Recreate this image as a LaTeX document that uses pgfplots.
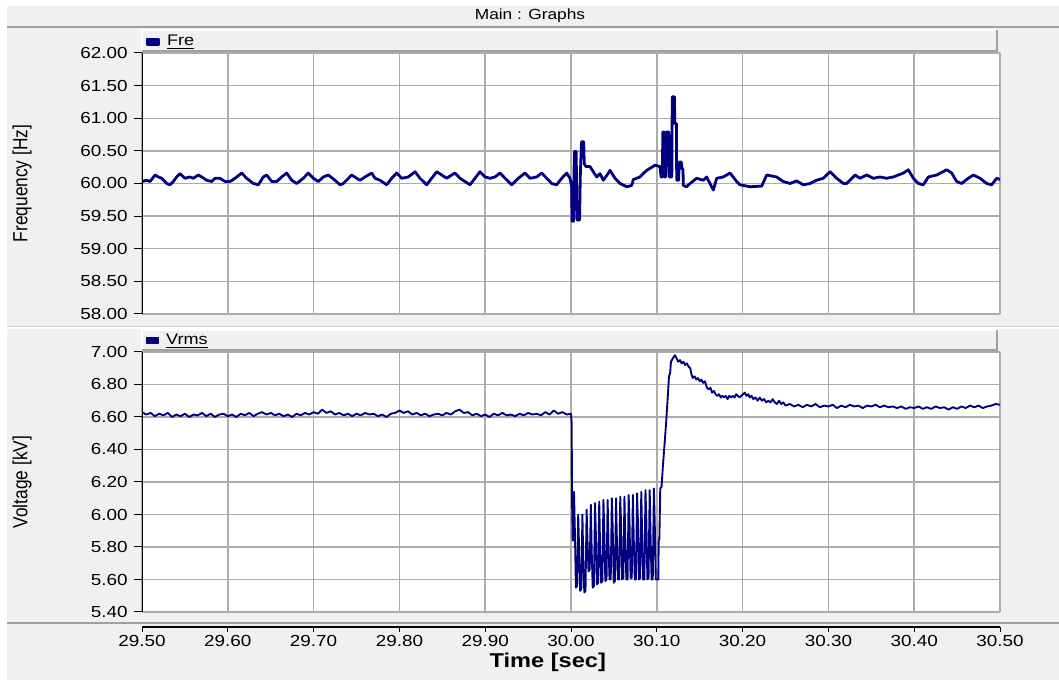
\documentclass[border=0pt]{standalone}
\usepackage{pgfplots}
\pgfplotsset{compat=1.18}
\usepackage{graphicx}
\usepackage{fontspec}
\setmainfont{Liberation Sans}
\newfontfamily\hfont[FakeStretch=1.18]{Liberation Sans}
\definecolor{navy}{RGB}{0,0,128}
\definecolor{bg}{RGB}{240,240,240}
\definecolor{gridgray}{RGB}{172,172,172}
\definecolor{shadow}{RGB}{160,160,160}
\pgfplotsset{
  panel/.style={
    scale only axis, width=643.5pt,
    xmin=29.5, xmax=30.5,
    xtick={29.5,29.6,29.7,29.8,29.9,30.0,30.1,30.2,30.3,30.4,30.5},
    xmajorticks=false, xmajorgrids=true, ymajorgrids=true,
    major grid style={draw=gridgray, line width=1.1pt},
    axis line style={draw=none},
    axis background/.style={fill=white},
    tick align=outside, major tick length=6pt, ytick pos=left,
    ytick style={draw=black, line width=0.75pt},
    yticklabel style={font=\hfont\fontsize{12}{14}\selectfont, anchor=east, inner sep=0pt, xshift=-4.5pt},
    every axis y label/.style={at={(axis description cs:0,0.5)}, anchor=center, xshift=-90pt},
    ylabel style={font=\fontsize{13}{15}\selectfont},
    legend style={at={(axis description cs:0,1)}, anchor=west, yshift=8.5pt, xshift=2.5pt, draw=none, fill=none, inner sep=0pt, font=\hfont\fontsize{11.5}{13}\selectfont},
    legend image code/.code={\fill[navy] (0pt,-2pt) rectangle (9pt,2pt);},
  }
}
\begin{document}
\begin{tikzpicture}
\useasboundingbox (0,0) rectangle (794.25pt,510pt);
\begin{scope}[x=0.75pt,y=0.75pt]
\fill[white] (0,0) rectangle (1059,680);
\fill[bg] (7,0) rectangle (1059,674);
\draw[shadow, line width=1.1pt] (7,653) -- (1059,653);
\node[font=\hfont\fontsize{11}{13}\selectfont] at (530,664) {Main : Graphs};
% legend bars
\fill[bg] (142,628) rectangle (998,650);
\draw[white, line width=1pt] (142,628) -- (142,650) -- (998,650);
\draw[shadow, line width=1.5pt] (142,628.5) -- (997,628.5) -- (997,650);
\fill[bg] (142,329) rectangle (998,350);
\draw[white, line width=1pt] (142,329) -- (142,350) -- (998,350);
\draw[shadow, line width=1.5pt] (142,329.5) -- (997,329.5) -- (997,350);
% separators
\draw[gridgray!60, line width=1pt] (7,353) -- (1059,353);
\draw[white, line width=1pt] (7,352) -- (1059,352);
\draw[shadow, line width=1.1pt] (7,57) -- (1059,57);
\end{scope}

% ---------- Frequency ----------
\begin{axis}[panel, at={(106.5pt,274.5pt)}, anchor=south west, height=195.75pt,
  ymin=58, ymax=62,
  ytick={58,58.5,59,59.5,60,60.5,61,61.5,62},
  yticklabels={58.00,58.50,59.00,59.50,60.00,60.50,61.00,61.50,62.00},
  ylabel={\rotatebox{90}{\scalebox{1}[1.18]{Frequency [Hz]}}}]
\addplot[navy, line width=2.1pt, line join=round] coordinates {
(29.5000,60.03) (29.5055,60.05) (29.5093,60.03) (29.5152,60.13) (29.5190,60.10) (29.5230,60.08) (29.5288,60.00) (29.5326,59.98) (29.5365,60.03) (29.5404,60.10) (29.5443,60.15) (29.5501,60.08) (29.5559,60.10) (29.5598,60.08) (29.5656,60.13) (29.5696,60.10) (29.5754,60.05) (29.5812,60.03) (29.5851,60.08) (29.5909,60.08) (29.5967,60.03) (29.6026,60.03) (29.6084,60.08) (29.6162,60.16) (29.6220,60.08) (29.6298,60.00) (29.6356,59.98) (29.6414,60.10) (29.6453,60.13) (29.6512,60.03) (29.6570,60.03) (29.6628,60.10) (29.6686,60.16) (29.6745,60.05) (29.6803,60.00) (29.6880,60.08) (29.6938,60.16) (29.6997,60.08) (29.7055,60.03) (29.7113,60.10) (29.7171,60.13) (29.7249,60.05) (29.7308,59.98) (29.7346,60.00) (29.7444,60.13) (29.7502,60.08) (29.7541,60.05) (29.7599,60.10) (29.7677,60.16) (29.7716,60.08) (29.7774,60.05) (29.7852,59.98) (29.7910,60.08) (29.7968,60.16) (29.8027,60.08) (29.8104,60.10) (29.8182,60.18) (29.8240,60.08) (29.8318,59.98) (29.8376,60.08) (29.8435,60.18) (29.8493,60.13) (29.8551,60.08) (29.8609,60.13) (29.8648,60.16) (29.8706,60.08) (29.8765,60.03) (29.8823,59.98) (29.8881,60.08) (29.8939,60.18) (29.8998,60.10) (29.9056,60.08) (29.9114,60.10) (29.9172,60.16) (29.9231,60.08) (29.9309,59.98) (29.9386,60.08) (29.9464,60.16) (29.9522,60.08) (29.9600,60.10) (29.9658,60.16) (29.9717,60.08) (29.9775,60.00) (29.9833,59.98) (29.9892,60.08) (29.9950,60.16) (29.9988,60.08)
(30.0008,59.95) (30.0012,59.42) (30.0030,59.42) (30.0034,60.10) (30.0040,60.49) (30.0060,60.49) (30.0064,60.10) (30.0070,59.44) (30.0100,59.44) (30.0108,60.10) (30.0122,60.64) (30.0148,60.64) (30.0155,60.30) (30.0175,60.26) (30.0221,60.26) (30.0260,60.18) (30.0300,60.10) (30.0338,60.15) (30.0377,60.05) (30.0420,60.13) (30.0455,60.20) (30.0513,60.08) (30.0571,60.00) (30.0649,59.95) (30.0707,59.97) (30.0726,60.06) (30.0765,60.08) (30.0804,60.10) (30.0840,60.15) (30.0882,60.20) (30.0930,60.24) (30.0979,60.28) (30.1037,60.26) (30.1050,60.10) (30.1065,60.10) (30.1070,60.79) (30.1085,60.79) (30.1090,60.10) (30.1105,60.10) (30.1110,60.79) (30.1140,60.79) (30.1145,60.10) (30.1175,60.10) (30.1180,61.33) (30.1205,61.33) (30.1210,60.92) (30.1228,60.92) (30.1232,60.05) (30.1255,60.05) (30.1260,60.33) (30.1285,60.33) (30.1295,60.22) (30.1305,60.22) (30.1309,59.97) (30.1348,59.95)
(30.1387,60.00) (30.1465,60.08) (30.1542,60.05) (30.1580,60.10) (30.1659,59.90) (30.1698,60.08) (30.1775,60.10) (30.1853,60.16) (30.1931,60.03) (30.1970,59.98) (30.2086,59.95) (30.2222,59.96) (30.2281,60.13) (30.2397,60.10) (30.2474,60.03) (30.2552,60.00) (30.2630,60.04) (30.2707,59.98) (30.2786,60.00) (30.2863,60.05) (30.2940,60.08) (30.3019,60.18) (30.3096,60.08) (30.3174,60.00) (30.3213,60.00) (30.3310,60.13) (30.3368,60.08) (30.3446,60.13) (30.3523,60.08) (30.3601,60.10) (30.3679,60.08) (30.3757,60.10) (30.3873,60.16) (30.3931,60.21) (30.3990,60.08) (30.4048,60.00) (30.4106,59.98) (30.4165,60.10) (30.4262,60.13) (30.4379,60.21) (30.4437,60.16) (30.4495,60.03) (30.4553,60.00) (30.4631,60.08) (30.4689,60.13) (30.4767,60.08) (30.4845,60.00) (30.4903,59.98) (30.4961,60.08) (30.5000,60.06)
};
\addlegendentry{\hspace{3pt}\underline{Fre}}
\draw[black, line width=1.1pt] (rel axis cs:0,0) -- (rel axis cs:0,1);
\end{axis}

% ---------- Voltage ----------
\begin{axis}[panel, at={(106.5pt,51pt)}, anchor=south west, height=195pt,
  ymin=5.4, ymax=7.0,
  ytick={5.4,5.6,5.8,6.0,6.2,6.4,6.6,6.8,7.0},
  yticklabels={5.40,5.60,5.80,6.00,6.20,6.40,6.60,6.80,7.00},
  ylabel={\rotatebox{90}{\scalebox{1}[1.18]{Voltage [kV]}}}]
\addplot[navy, line width=1.4pt, line join=round] coordinates {
(29.500,6.63) (29.505,6.615) (29.510,6.625) (29.515,6.605) (29.520,6.62) (29.525,6.61) (29.530,6.625) (29.535,6.60) (29.540,6.615) (29.545,6.605) (29.550,6.62) (29.555,6.60) (29.560,6.615) (29.565,6.61) (29.570,6.625) (29.575,6.605) (29.580,6.62) (29.585,6.60) (29.590,6.615) (29.595,6.62)
(29.600,6.605) (29.605,6.615) (29.610,6.60) (29.615,6.62) (29.620,6.61) (29.625,6.625) (29.630,6.605) (29.635,6.62) (29.640,6.63) (29.645,6.615) (29.650,6.625) (29.655,6.61) (29.660,6.62) (29.665,6.605) (29.670,6.615) (29.675,6.60) (29.680,6.62) (29.685,6.61) (29.690,6.625) (29.695,6.615)
(29.700,6.63) (29.705,6.62) (29.710,6.645) (29.715,6.625) (29.720,6.635) (29.725,6.615) (29.730,6.625) (29.735,6.61) (29.740,6.62) (29.745,6.605) (29.750,6.62) (29.755,6.61) (29.760,6.625) (29.765,6.615) (29.770,6.62) (29.775,6.605) (29.780,6.615) (29.785,6.60) (29.790,6.62) (29.795,6.625)
(29.800,6.64) (29.805,6.625) (29.810,6.635) (29.815,6.615) (29.820,6.625) (29.825,6.61) (29.830,6.62) (29.835,6.605) (29.840,6.615) (29.845,6.62) (29.850,6.61) (29.855,6.625) (29.860,6.615) (29.865,6.635) (29.870,6.645) (29.875,6.625) (29.880,6.63) (29.885,6.61) (29.890,6.62) (29.895,6.605)
(29.900,6.615) (29.905,6.60) (29.910,6.62) (29.915,6.61) (29.920,6.625) (29.925,6.61) (29.930,6.615) (29.935,6.605) (29.940,6.62) (29.945,6.61) (29.950,6.625) (29.955,6.615) (29.960,6.62) (29.965,6.61) (29.970,6.63) (29.975,6.615) (29.980,6.64) (29.985,6.62) (29.990,6.63) (29.995,6.615)
(30.0000,6.62) (30.0008,6.56) (30.0012,6.09) (30.0020,5.84) (30.0030,5.84)
(30.0035,6.14) (30.0045,5.90) (30.0057,5.55) (30.0071,5.56)
(30.0084,6.00) (30.0094,5.80) (30.0106,5.53) (30.0120,5.54)
(30.0133,6.00) (30.0143,5.72) (30.0155,5.52) (30.0169,5.53)
(30.0182,6.03) (30.0192,5.85) (30.0204,5.65) (30.0218,5.66)
(30.0231,6.06) (30.0241,5.78) (30.0253,5.55) (30.0267,5.56)
(30.0280,6.07) (30.0290,5.88) (30.0302,5.57) (30.0316,5.58)
(30.0329,6.08) (30.0339,5.80) (30.0351,5.58) (30.0365,5.59)
(30.0378,6.09) (30.0388,5.90) (30.0400,5.59) (30.0414,5.60)
(30.0427,6.09) (30.0437,5.82) (30.0449,5.60) (30.0463,5.60)
(30.0476,6.10) (30.0486,5.92) (30.0498,5.58) (30.0512,5.59)
(30.0525,6.10) (30.0535,5.84) (30.0547,5.60) (30.0561,5.60)
(30.0574,6.11) (30.0584,5.93) (30.0596,5.60) (30.0610,5.61)
(30.0623,6.11) (30.0633,5.85) (30.0645,5.60) (30.0659,5.60)
(30.0672,6.12) (30.0682,5.95) (30.0694,5.61) (30.0708,5.61)
(30.0721,6.12) (30.0731,5.86) (30.0743,5.60) (30.0757,5.60)
(30.0770,6.13) (30.0780,5.96) (30.0792,5.60) (30.0806,5.61)
(30.0819,6.14) (30.0829,5.88) (30.0841,5.60) (30.0855,5.60)
(30.0868,6.15) (30.0878,5.97) (30.0890,5.60) (30.0904,5.61)
(30.0917,6.15) (30.0927,5.88) (30.0939,5.60) (30.0953,5.60)
(30.0966,6.16) (30.0976,5.95) (30.0988,5.60) (30.1018,5.60)
(30.1022,5.84) (30.1030,5.85) (30.1040,6.16) (30.1055,6.17) (30.1070,6.29) (30.1090,6.43) (30.1108,6.56) (30.1125,6.70) (30.1142,6.85) (30.1155,6.87) (30.1165,6.94) (30.1185,6.96) (30.1210,6.98)
(30.1232,6.96) (30.1250,6.94) (30.1270,6.95) (30.1290,6.93) (30.1310,6.94) (30.1330,6.92) (30.1350,6.93) (30.1370,6.91) (30.1390,6.90) (30.1405,6.86) (30.1420,6.84) (30.1440,6.85) (30.1460,6.83) (30.1480,6.84) (30.1500,6.82) (30.1520,6.83) (30.1540,6.81) (30.1560,6.82) (30.1585,6.78) (30.1605,6.77) (30.1625,6.78) (30.1645,6.75) (30.1665,6.76) (30.1685,6.74) (30.1705,6.73) (30.1725,6.74) (30.1745,6.72) (30.1765,6.73) (30.1785,6.72) (30.1805,6.73) (30.1825,6.71) (30.1845,6.73) (30.1865,6.72) (30.1885,6.73) (30.1905,6.72) (30.1925,6.74) (30.1945,6.73) (30.1965,6.72) (30.1985,6.73) (30.2005,6.74) (30.2025,6.75) (30.2045,6.73) (30.2065,6.74) (30.2085,6.72) (30.2105,6.73) (30.2125,6.71) (30.2150,6.72) (30.2175,6.70) (30.2200,6.72) (30.2225,6.70) (30.2250,6.71) (30.2275,6.69) (30.2300,6.70) (30.2325,6.69) (30.2350,6.71) (30.2375,6.69) (30.2400,6.68) (30.2425,6.70) (30.2450,6.68) (30.2475,6.69) (30.2500,6.67)
(30.255,6.68) (30.260,6.665) (30.265,6.675) (30.270,6.66) (30.275,6.675) (30.280,6.665) (30.285,6.68) (30.290,6.66) (30.295,6.67) (30.300,6.665) (30.305,6.675) (30.310,6.655) (30.315,6.67) (30.320,6.66) (30.325,6.675) (30.330,6.665) (30.335,6.67) (30.340,6.655) (30.345,6.67) (30.350,6.665)
(30.355,6.675) (30.360,6.66) (30.365,6.67) (30.370,6.66) (30.375,6.665) (30.380,6.655) (30.385,6.665) (30.390,6.65) (30.395,6.66) (30.400,6.655) (30.405,6.665) (30.410,6.65) (30.415,6.66) (30.420,6.65) (30.425,6.665) (30.430,6.655) (30.435,6.66) (30.440,6.645) (30.445,6.66) (30.450,6.65)
(30.455,6.665) (30.460,6.655) (30.465,6.67) (30.470,6.66) (30.475,6.67) (30.480,6.655) (30.485,6.665) (30.490,6.67) (30.495,6.68) (30.500,6.675)
};
\addlegendentry{\hspace{3pt}\underline{Vrms}}
\draw[black, line width=1.1pt] (rel axis cs:0,0) -- (rel axis cs:0,1);
\end{axis}

% ---------- Time axis ----------
\begin{axis}[at={(106.5pt,39.75pt)}, anchor=south west, scale only axis,
  width=643.5pt, height=10pt, xmin=29.5, xmax=30.5, ymin=0, ymax=1,
  axis x line=bottom, axis y line=none, axis line style={-, black, line width=1.1pt},
  xtick={29.5,29.6,29.7,29.8,29.9,30.0,30.1,30.2,30.3,30.4,30.5},
  xticklabels={29.50,29.60,29.70,29.80,29.90,30.00,30.10,30.20,30.30,30.40,30.50},
  tick align=outside, major tick length=3.75pt, xtick style={black, line width=0.75pt},
  xticklabel style={font=\hfont\fontsize{12}{14}\selectfont, anchor=north, inner sep=0pt, yshift=-2pt},
  xlabel={Time [sec]},
  xlabel style={font=\hfont\bfseries\fontsize{15}{17}\selectfont, at={(axis description cs:0.473,0)}, anchor=center, yshift=-26.25pt}]
\end{axis}
\end{tikzpicture}
\end{document}
